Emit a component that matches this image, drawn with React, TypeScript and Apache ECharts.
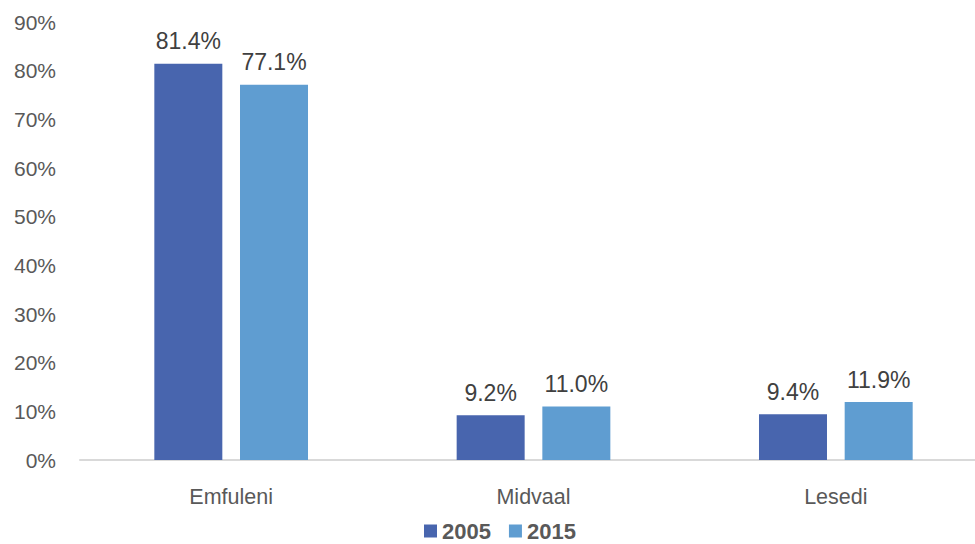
import React, { useEffect, useRef } from "react";
import * as echarts from "echarts";

const categories = ["Emfuleni", "Midvaal", "Lesedi"];
const seriesNames = ["2005", "2015"];
const values2005 = [81.4, 9.2, 9.4];
const values2015 = [77.1, 11.0, 11.9];
const colors = ["#4865ae", "#5f9dd1"];

export default function App() {
  const ref = useRef<HTMLDivElement>(null);
  useEffect(() => {
    if (!ref.current) return;
    const chart = echarts.init(ref.current, null, { renderer: "svg" });
    const font = "'Liberation Sans', Arial, sans-serif";
    const label = {
      show: true,
      position: "top",
      distance: 11,
      color: "#404040",
      fontSize: 23,
      fontFamily: font,
      formatter: (p: any) => p.value.toFixed(1) + "%",
    };
    chart.setOption({
      animation: false,
      textStyle: { fontFamily: font },
      grid: { left: 80, right: 3, top: 22, bottom: 84, containLabel: false },
      legend: {
        data: seriesNames,
        left: 424,
        top: 520,
        padding: 0,
        itemWidth: 13,
        itemHeight: 13,
        itemGap: 18,
        icon: "rect",
        textStyle: { color: "#595959", fontSize: 22, lineHeight: 22, fontWeight: "bold", fontFamily: font },
      },
      xAxis: {
        type: "category",
        data: categories,
        axisLine: { lineStyle: { color: "#d9d9d9", width: 2 } },
        axisTick: { show: false },
        axisLabel: { color: "#595959", fontSize: 21.5, margin: 26, fontFamily: font },
      },
      yAxis: {
        type: "value",
        min: 0,
        max: 90,
        interval: 10,
        splitLine: { show: false },
        axisLine: { show: false },
        axisTick: { show: false },
        axisLabel: { color: "#595959", fontSize: 21, margin: 24, formatter: "{value}%", fontFamily: font },
      },
      series: [
        {
          name: seriesNames[0],
          type: "bar",
          data: values2005,
          barWidth: 68,
          barGap: "26%",
          itemStyle: { color: colors[0] },
          label,
        },
        {
          name: seriesNames[1],
          type: "bar",
          data: values2015,
          barWidth: 68,
          barGap: "26%",
          itemStyle: { color: colors[1] },
          label,
        },
      ],
    });
    return () => chart.dispose();
  }, []);
  return (
    <div
      style={{ position: "fixed", left: 0, top: 0, width: 975, height: 544, overflow: "hidden", background: "#fff" }}
    >
      <div ref={ref} style={{ width: 990, height: 544 }} />
    </div>
  );
}
